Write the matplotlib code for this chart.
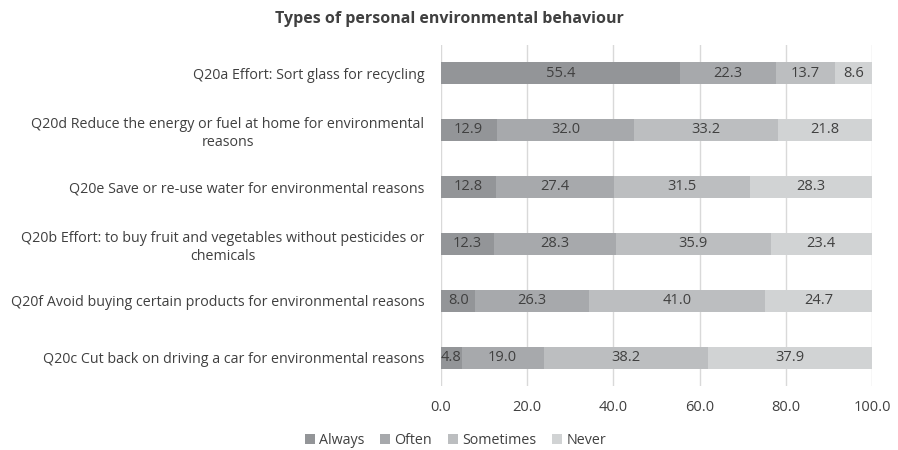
import matplotlib
matplotlib.use("Agg")
from matplotlib import pyplot as plt
import numpy as np

categories = [
    "Q20a Effort: Sort glass for recycling",
    "Q20d Reduce the energy or fuel at home for environmental\nreasons",
    "Q20e Save or re-use water for environmental reasons",
    "Q20b Effort: to buy fruit and vegetables without pesticides or\nchemicals",
    "Q20f Avoid buying certain products for environmental reasons",
    "Q20c Cut back on driving a car for environmental reasons",
]
series_names = ["Always", "Often", "Sometimes", "Never"]
always = [55.4, 12.9, 12.8, 12.3, 8.0, 4.8]
often = [22.3, 32.0, 27.4, 28.3, 26.3, 19.0]
sometimes = [13.7, 33.2, 31.5, 35.9, 41.0, 38.2]
never = [8.6, 21.8, 28.3, 23.4, 24.7, 37.9]
xticks = [0, 20, 40, 60, 80, 100]

colors = ["#939598", "#a7a9ac", "#bcbec0", "#d1d3d4"]
text_col = "#404040"

plt.rcParams["font.family"] = ["Open Sans", "DejaVu Sans"]

fig = plt.figure(figsize=(8.98, 4.5), dpi=100)
ax = fig.add_axes([0.491, 0.142, 0.48, 0.759])

y = np.arange(len(categories))
left = np.zeros(len(categories))
for name, vals, c in zip(series_names, [always, often, sometimes, never], colors):
    bars = ax.barh(y, vals, left=left, height=0.39, color=c, label=name, zorder=3)
    for b, v in zip(bars, vals):
        ax.text(b.get_x() + b.get_width() / 2, b.get_y() + b.get_height() / 2,
                f"{v:.1f}", ha="center", va="center", fontsize=10.5, color=text_col, zorder=4)
    left += np.array(vals)

ax.set_ylim(len(categories) - 0.5, -0.5)
ax.set_xlim(0, 100)
ax.set_yticks(y)
ax.set_yticklabels(categories, fontsize=10.3, color=text_col, multialignment="center",
                   linespacing=1.3)
ax.set_xticks(xticks)
ax.set_xticklabels([f"{t:.1f}" for t in xticks], fontsize=10.5, color=text_col)
ax.tick_params(axis="both", length=0)
ax.tick_params(axis="y", pad=12)
ax.tick_params(axis="x", pad=10)
ax.grid(axis="x", color="#d9d9d9", linewidth=1, zorder=0)
for s in ax.spines.values():
    s.set_visible(False)

fig.text(0.5, 0.958, "Types of personal environmental behaviour", ha="center", va="center",
         fontsize=11.5, fontweight="bold", color=text_col)

fig.legend(loc="center", bbox_to_anchor=(0.507, 0.022), ncol=4, frameon=False,
           fontsize=10.3, handlelength=0.7, handleheight=0.7, handletextpad=0.3,
           columnspacing=1.1, labelcolor=text_col)

fig.savefig("out.png", dpi=100)
